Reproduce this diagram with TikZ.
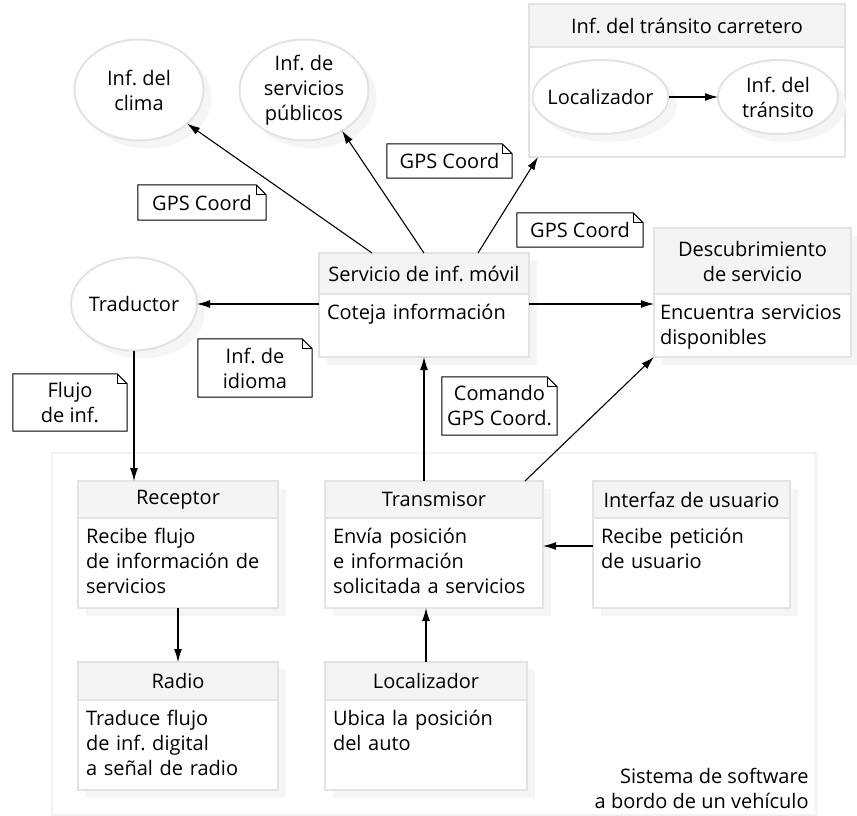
\documentclass[tikz,border=0pt]{standalone}
\usepackage{fontspec}
\setmainfont{Open Sans}
\usepackage{tikz}
\usetikzlibrary{arrows.meta,positioning,shapes.geometric,shadows}
\frenchspacing

\begin{document}
\begin{tikzpicture}[x=1pt, y=-1pt, font=\fontsize{20}{25}\selectfont,
    sombra/.style={drop shadow={shadow xshift=8pt, shadow yshift=-8pt, fill=gray!8, opacity=1}},
    linea/.style={draw=gray!22, line width=2pt, outer sep=0pt},
    cabeza/.style={linea, fill=gray!9, sombra, minimum height=37pt},
    cuerpo/.style={linea, fill=white, sombra, align=left, inner xsep=8pt, inner ysep=5pt, text height=20pt, text depth=#1},
    cuerpo/.default=60pt,
    elipse/.style={ellipse, linea, fill=white, sombra, align=center, inner sep=-5pt},
    nota/.style={align=center, inner sep=2pt,
        append after command={\pgfextra{\let\nodo\tikzlastnode
            \draw[line width=1pt] (\nodo.north west) -- ([xshift=-10pt]\nodo.north east) -- ([yshift=-10pt]\nodo.north east)
                -- (\nodo.south east) -- (\nodo.south west) -- cycle;
            \draw[line width=1pt] ([xshift=-10pt]\nodo.north east) |- ([yshift=-10pt]\nodo.north east);}}},
    flecha/.style={-{Latex[length=13pt,width=8pt]}, line width=1.1pt}]
\useasboundingbox (0,0) rectangle (857,816);

\node[draw=gray!10, line width=1.6pt, minimum width=764pt, minimum height=362pt] (sistema) at (434,634) {};
\node[anchor=south east, align=right, inner xsep=8pt, inner ysep=7pt] (rotulo) at (sistema.south east) {Sistema de software\\a bordo de un vehículo};

% servicios externos
\node[elipse, minimum width=129pt, minimum height=101pt] (clima) at (139,90) {Inf. del\\clima};
\node[elipse, minimum width=129pt, minimum height=101pt] (publicos) at (304,90) {Inf. de\\servicios\\públicos};
\node[elipse, minimum width=126pt, minimum height=93pt] (traductor) at (134,304) {Traductor};

\node[linea, fill=gray!9, minimum width=316pt, minimum height=43pt] (transito-h) at (687,25.5) {Inf. del tránsito carretero};
\node[linea, fill=white, minimum width=316pt, minimum height=110pt, below=0pt of transito-h] (transito) {};
\node[elipse, minimum width=125pt, minimum height=74pt] (locin) at (600.5,97) {Localizador};
\node[elipse, minimum width=120pt, minimum height=74pt] (tran) at (778,97) {Inf. del\\tránsito};

\node[cabeza, minimum width=210pt, minimum height=41pt] (serv-h) at (424,273.5) {Servicio de inf. móvil};
\node[cuerpo=33pt, text width=194pt, below=0pt of serv-h] (serv-b) {Coteja información};
\node[cabeza, minimum width=197pt, minimum height=66pt, align=center] (desc-h) at (752.5,261) {Descubrimiento\\de servicio};
\node[cuerpo=33pt, text width=185pt, inner xsep=6pt, below=0pt of desc-h] (desc-b) {Encuentra~servicios\\disponibles};

% a bordo
\node[cabeza, minimum width=200pt] (rec-h) at (178,499.5) {Receptor};
\node[cuerpo, text width=184pt, below=0pt of rec-h] (rec-b) {Recibe flujo\\de información de\\servicios};
\node[cabeza, minimum width=218pt] (trans-h) at (434,499.5) {Transmisor};
\node[cuerpo, text width=202pt, below=0pt of trans-h] (trans-b) {Envía posición\\e información\\solicitada a servicios};
\node[cabeza, minimum width=197pt] (inter-h) at (691.5,499.5) {Interfaz de usuario};
\node[cuerpo, text width=181pt, below=0pt of inter-h] (inter-b) {Recibe petición\\de usuario};
\node[cabeza, minimum width=200pt, minimum height=38pt] (radio-h) at (178,681) {Radio};
\node[cuerpo, text width=184pt, below=0pt of radio-h] (radio-b) {Traduce flujo\\de inf. digital\\a señal de radio};
\node[cabeza, minimum width=202pt, minimum height=38pt] (loc-h) at (426,681) {Localizador};
\node[cuerpo, text width=186pt, below=0pt of loc-h] (loc-b) {Ubica la posición\\del auto};

% notas
\node[nota, minimum width=128pt, minimum height=35pt] (n-clima) at (202,202.5) {GPS Coord};
\node[nota, minimum width=125pt, minimum height=34pt] (n-publicos) at (449.5,161) {GPS Coord};
\node[nota, minimum width=126pt, minimum height=34pt] (n-transito) at (580,230) {GPS Coord};
\node[nota, minimum width=114pt, minimum height=58pt] (n-idioma) at (255,368) {Inf. de\\idioma};
\node[nota, minimum width=114pt, minimum height=57pt] (n-flujo) at (70,402.5) {Flujo\\de inf.};
\node[nota, minimum width=115pt, minimum height=58pt] (n-comando) at (499.5,406) {Comando\\GPS Coord.};

\draw[flecha] ([xshift=-52pt]serv-h.north) -- (clima);
\draw[flecha] (serv-h.north) -- (publicos.-47);
\draw[flecha] ([xshift=54pt]serv-h.north) -- ([xshift=9pt]transito.south west);
\draw[flecha] ([yshift=-10pt]serv-b.north west) -- (traductor.east);
\draw[flecha] ([yshift=-10pt]serv-b.north east) -- ([yshift=-10pt]desc-b.north west);
\draw[flecha] (traductor.south) -- (traductor.south |- rec-h.north);
\draw[flecha] (serv-b.south |- trans-h.north) -- (serv-b.south);
\draw[flecha] ([xshift=-18pt]trans-h.north east) -- (desc-b.south west);
\draw[flecha] ([yshift=-28pt]inter-b.north west) -- ([yshift=-28pt]trans-b.north east);
\draw[flecha] (rec-b.south) -- (radio-h.north);
\draw[flecha] (loc-h.north) -- (loc-h.north |- trans-b.south);
\draw[flecha] (locin) -- (tran);
\end{tikzpicture}
\end{document}
